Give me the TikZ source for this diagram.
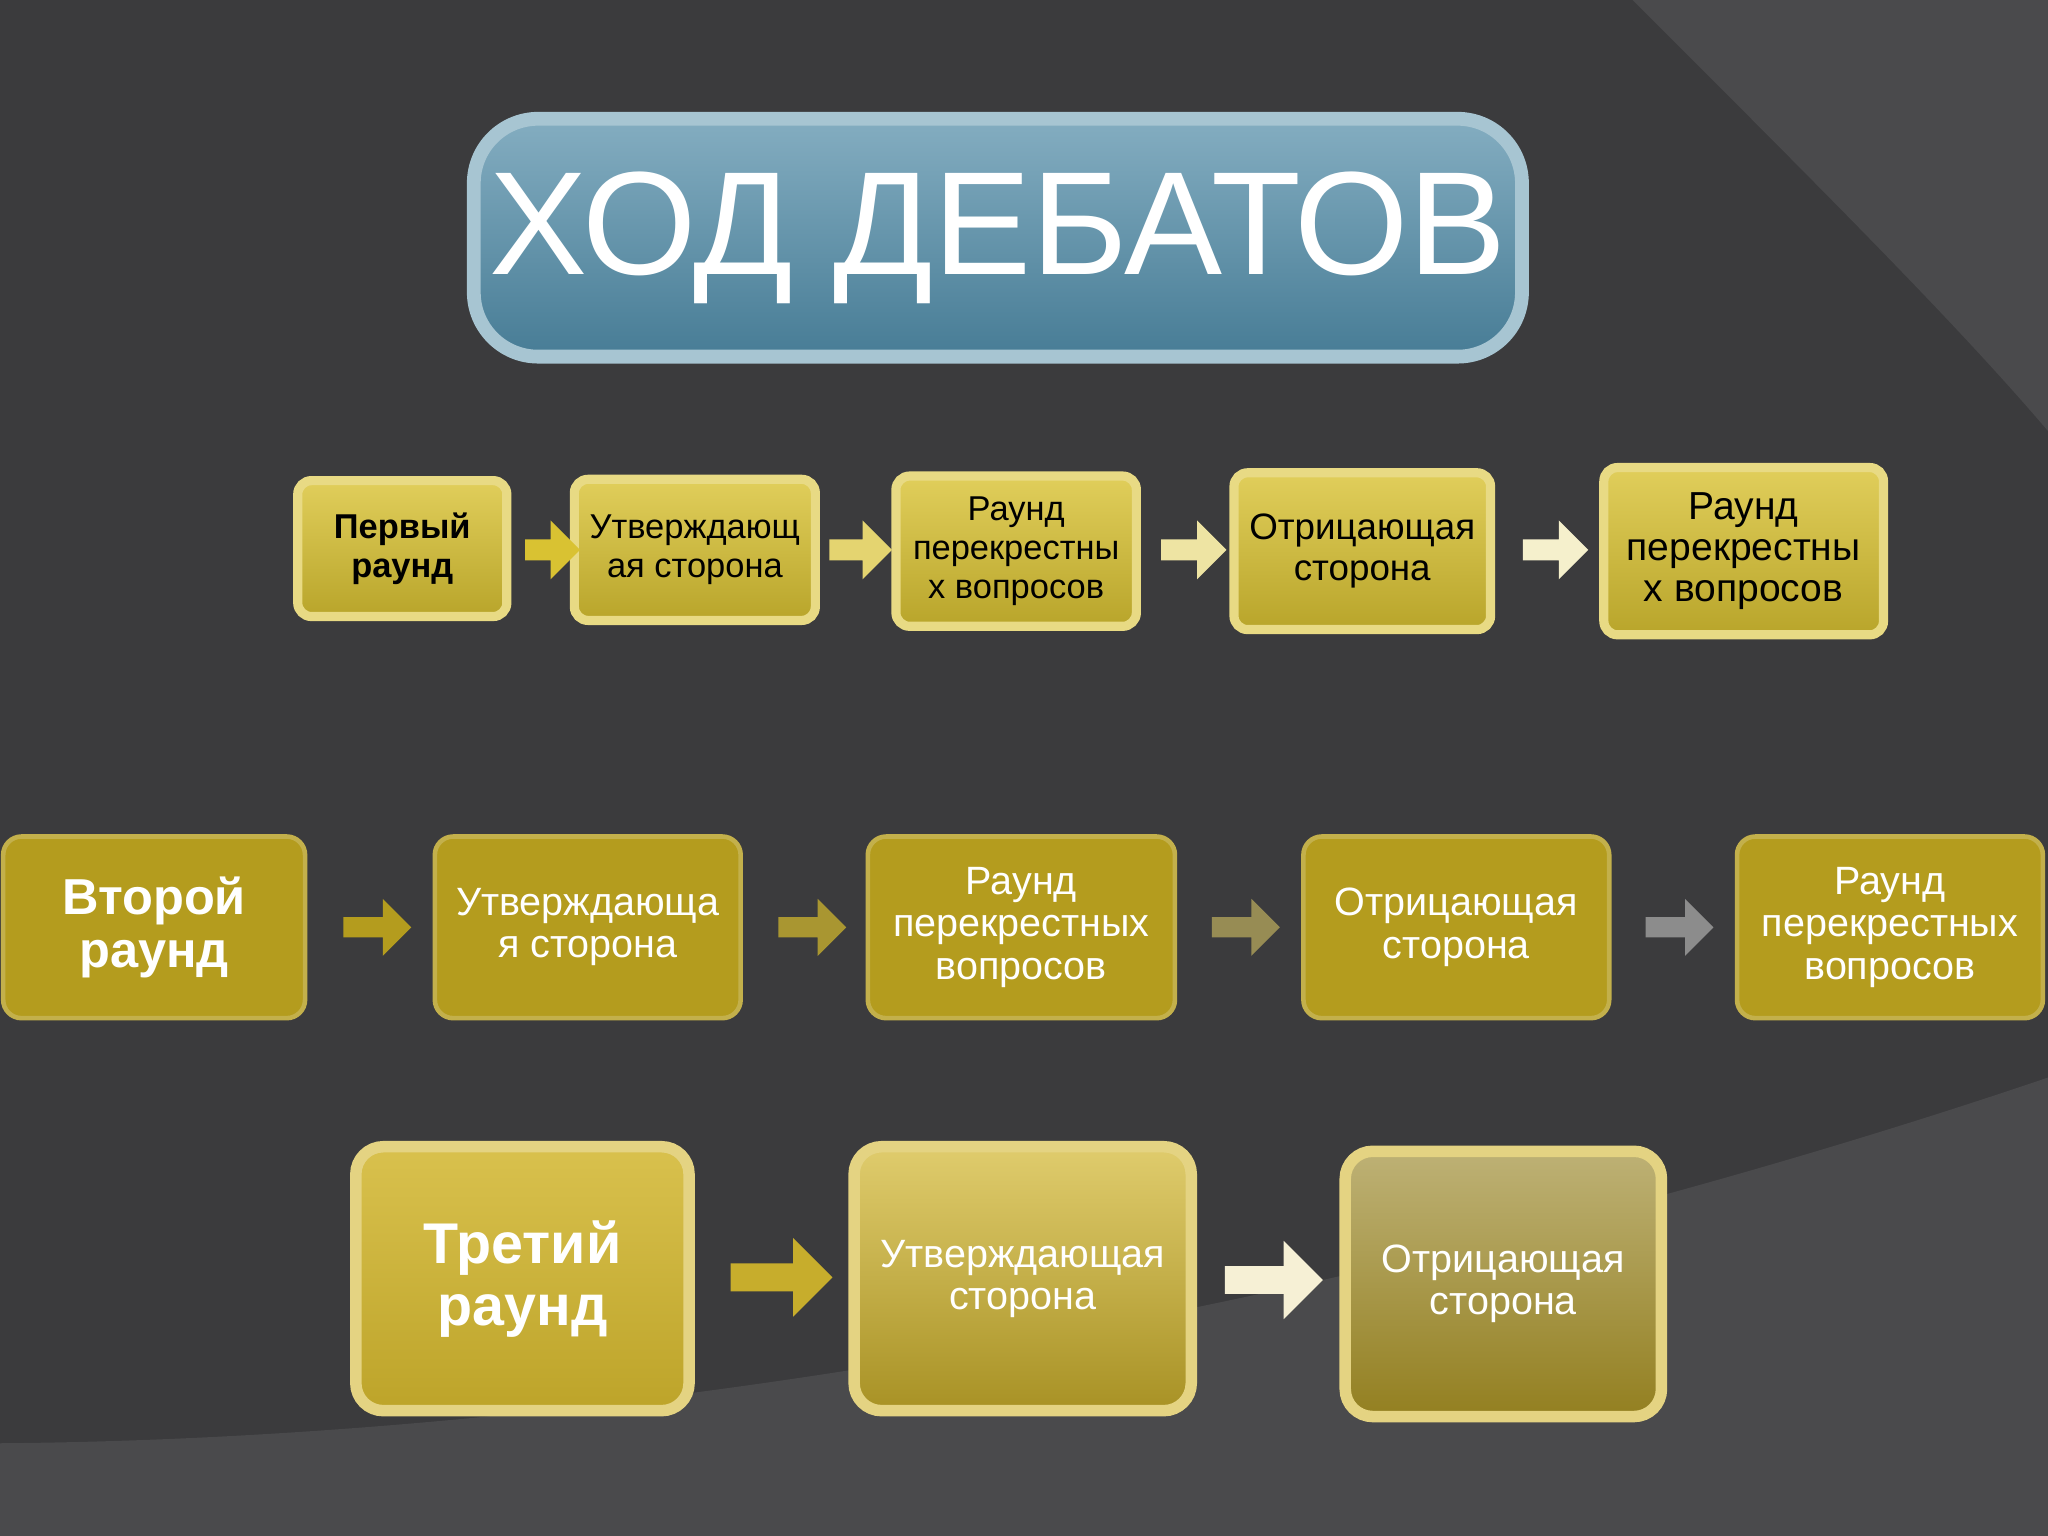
\documentclass[tikz,border=0pt]{standalone}
\usepackage{fontspec}
\setmainfont{Liberation Sans}
\usetikzlibrary{shapes.arrows}
\definecolor{bg}{HTML}{3B3B3D}
\definecolor{bgl}{HTML}{4A4A4C}
\definecolor{yA}{HTML}{D9C232}
\definecolor{yB}{HTML}{B49C1E}
\definecolor{yC}{HTML}{D2B62E}
\definecolor{tb}{HTML}{4F8AA6}
\tikzset{
 rowA/.style={draw=yA!60!white,line width=2pt,rounded corners=3pt,top color=yA!80!white,bottom color=yA!85!black,text=black,align=center,font=\fontsize{7.5}{8.5}\selectfont},
 rowB/.style={draw=yB!80!white,line width=1pt,rounded corners=4pt,fill=yB,text=white,align=center,font=\fontsize{8.6}{9.2}\selectfont},
 rowC/.style={draw=yC!60!white,line width=2.5pt,rounded corners=6pt,top color=yC!85!white,bottom color=yC!90!black,text=white,align=center,font=\fontsize{8.6}{9.2}\selectfont},
 barr/.style={single arrow,draw=none,single arrow head extend=4pt,minimum height=#1,inner sep=2pt},
}
\begin{document}
\begin{tikzpicture}[x=0.01cm,y=-0.01cm]
\fill[bg] (0,0) rectangle (1568,1176);
\useasboundingbox (0,0) rectangle (1568,1176);
\fill[bgl] (1250,0) .. controls (1400,150) and (1500,250) .. (1568,330) -- (1568,0) -- cycle;
\fill[bgl] (0,1105) .. controls (600,1100) and (1200,950) .. (1568,825) -- (1568,1176) -- (0,1176) -- cycle;
% title
\node[draw=tb!50!white,line width=3pt,rounded corners=14pt,top color=tb!70!white,bottom color=tb!90!black,minimum width=7.7cm,minimum height=1.82cm,text=white,font=\fontsize{32}{36}\selectfont] (title) at (764,182) {ХОД ДЕБАТОВ};
% row 1
\node[rowA,minimum width=1.6cm,minimum height=1.04cm,font=\bfseries\fontsize{7.5}{8.5}\selectfont] (a1) at (308,420) {Первый\\раунд};
\node[rowA,minimum width=1.71cm,minimum height=1.08cm] (a2) at (532,421) {Утверждающ\\ая сторона};
\node[rowA,minimum width=1.84cm,minimum height=1.15cm] (a3) at (778,422) {Раунд\\перекрестны\\х вопросов};
\node[rowA,minimum width=1.94cm,minimum height=1.2cm,font=\fontsize{8}{9}\selectfont] (a4) at (1043,422) {Отрицающая\\сторона};
\node[rowA,minimum width=2.14cm,minimum height=1.28cm,font=\fontsize{8.5}{9}\selectfont] (a5) at (1335,422) {Раунд\\перекрестны\\х вопросов};
\node[barr=0.42cm,fill=yA,minimum width=0.45cm] at (419,421) {};
\node[barr=0.48cm,fill=yA!70!white,minimum width=0.45cm] at (655,421) {};
\node[barr=0.5cm,fill=yA!45!white,minimum width=0.45cm] at (910,421) {};
\node[barr=0.5cm,fill=yA!25!white,minimum width=0.45cm] at (1187,421) {};
% row 2
\node[rowB,minimum width=2.31cm,minimum height=1.39cm,font=\bfseries\fontsize{11}{11.5}\selectfont] (b1) at (118,710) {Второй\\раунд};
\node[rowB,minimum width=2.34cm,minimum height=1.39cm] (b2) at (450,710) {Утверждающа\\я сторона};
\node[rowB,minimum width=2.35cm,minimum height=1.39cm] (b3) at (782,710) {Раунд\\перекрестных\\вопросов};
\node[rowB,minimum width=2.34cm,minimum height=1.39cm] (b4) at (1115,710) {Отрицающая\\сторона};
\node[rowB,minimum width=2.34cm,minimum height=1.39cm] (b5) at (1447,710) {Раунд\\перекрестных\\вопросов};
\node[barr=0.52cm,fill=yB,minimum width=0.4cm] at (285,710) {};
\node[barr=0.52cm,fill=yB!80!gray,minimum width=0.4cm] at (618,710) {};
\node[barr=0.52cm,fill=yB!45!gray,minimum width=0.4cm] at (950,710) {};
\node[barr=0.52cm,fill=gray!90!white,minimum width=0.4cm] at (1282,710) {};
% row 3
\node[rowC,minimum width=2.55cm,minimum height=2.02cm,font=\bfseries\fontsize{12.5}{13.5}\selectfont] (c1) at (400,979) {Третий\\раунд};
\node[rowC,minimum width=2.58cm,minimum height=2.02cm,top color=yC!70!white,bottom color=yC!80!black] (c2) at (783,979) {Утверждающая\\сторона};
\node[rowC,minimum width=2.42cm,minimum height=2.03cm,top color=yC!55!gray!80!white,bottom color=yC!70!black] (c3) at (1151,983) {Отрицающая\\сторона};
\node[barr=0.78cm,fill=yC!95!black,minimum width=0.6cm] at (593,978) {};
\node[barr=0.75cm,fill=yC!20!white,minimum width=0.6cm] at (970,980) {};
\end{tikzpicture}
\end{document}
